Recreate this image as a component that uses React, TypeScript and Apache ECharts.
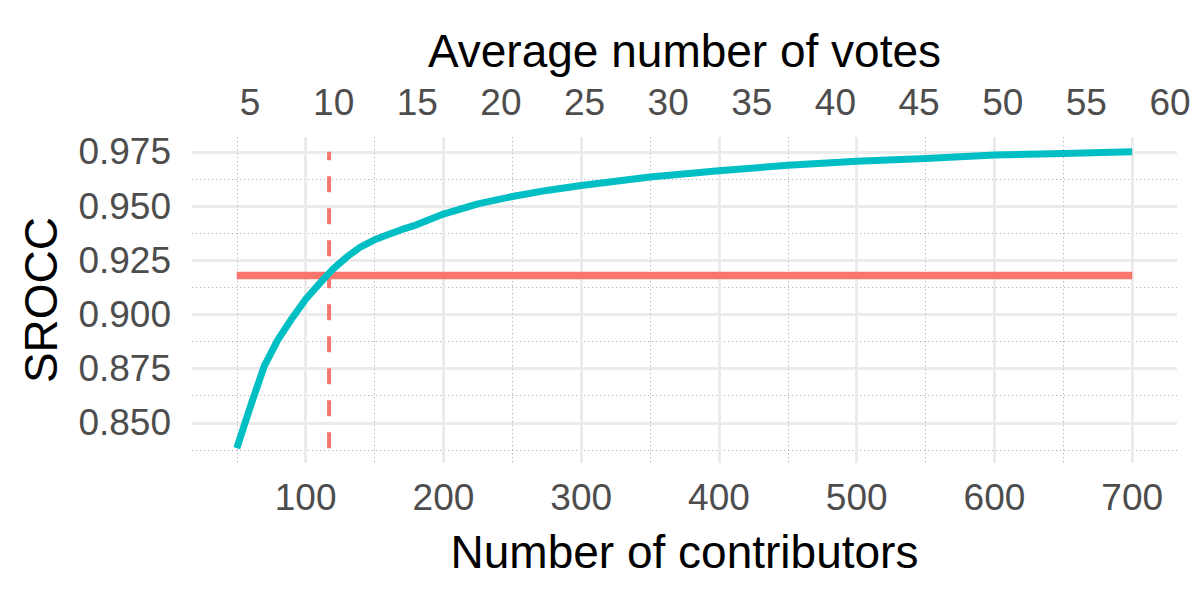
import React, { useEffect, useRef } from "react";
import * as echarts from "echarts";

const contributors = [50, 60, 70, 80, 90, 100, 110, 120, 130, 140, 150, 160, 170, 180, 200, 225, 250, 275, 300, 350, 400, 450, 500, 550, 600, 650, 700];
const srocc = [0.8383, 0.8577, 0.8763, 0.8885, 0.8981, 0.907, 0.9142, 0.921, 0.9266, 0.9312, 0.9344, 0.9369, 0.9392, 0.9412, 0.9463, 0.951, 0.9544, 0.9572, 0.9595, 0.9634, 0.9663, 0.9688, 0.9707, 0.9719, 0.9735, 0.9742, 0.975];

const xMajorTicks = [100, 200, 300, 400, 500, 600, 700];
const xMinorTicks = [50, 150, 250, 350, 450, 550, 650];
const yMajorTicks = [0.85, 0.875, 0.9, 0.925, 0.95, 0.975];
const yMinorTicks = [0.8375, 0.8625, 0.8875, 0.9125, 0.9375, 0.9625];
const voteTicks = [5, 10, 15, 20, 25, 30, 35, 40, 45, 50, 55, 60];

const thresholdSrocc = 0.918;
const thresholdContributors = 117;

const X_RANGE = [17.5, 732.5];
const Y_RANGE = [0.83147, 0.98184];
const VOTE_RANGE = [1.53, 60.42];

const FONT = "Liberation Sans, Arial, sans-serif";
const TEAL = "#00BFC4";
const RED = "#F8766D";

export default function App() {
  const ref = useRef<HTMLDivElement>(null);
  useEffect(() => {
    if (!ref.current) return;
    const chart = echarts.init(ref.current, undefined, { renderer: "svg" });
    const yMin = Math.min(...srocc);
    const yMax = Math.max(...srocc);
    const xMin = Math.min(...contributors);
    const xMax = Math.max(...contributors);
    const labelStyle = { color: "#4D4D4D", fontSize: 37, fontFamily: FONT };
    const nameStyle = { color: "#000000", fontSize: 46, fontFamily: FONT };
    chart.setOption({
      animation: false,
      backgroundColor: "#ffffff",
      grid: { left: 192, right: 23, top: 137, bottom: 137, containLabel: false },
      xAxis: [
        {
          type: "value",
          position: "bottom",
          min: X_RANGE[0],
          max: X_RANGE[1],
          name: "Number of contributors",
          nameLocation: "middle",
          nameGap: 66,
          nameTextStyle: nameStyle,
          axisLine: { show: false },
          axisTick: { show: false, customValues: xMajorTicks },
          axisLabel: { ...labelStyle, margin: 16, customValues: xMajorTicks },
          splitLine: { show: true, lineStyle: { color: "#EBEBEB", width: 3 } },
          z: 1,
        },
        {
          type: "value",
          position: "bottom",
          min: X_RANGE[0],
          max: X_RANGE[1],
          axisLine: { show: false },
          axisTick: { show: false, customValues: xMinorTicks },
          axisLabel: { show: false, customValues: xMinorTicks },
          splitLine: { show: true, lineStyle: { color: "#B3B3B3", width: 1, type: [1.2, 2.8] } },
        },
        {
          type: "value",
          position: "top",
          min: VOTE_RANGE[0],
          max: VOTE_RANGE[1],
          name: "Average number of votes",
          nameLocation: "middle",
          nameGap: 63,
          nameTextStyle: nameStyle,
          axisLine: { show: false },
          axisTick: { show: false, customValues: voteTicks },
          axisLabel: { ...labelStyle, margin: 16, customValues: voteTicks },
          splitLine: { show: false },
        },
      ],
      yAxis: [
        {
          type: "value",
          min: Y_RANGE[0],
          max: Y_RANGE[1],
          name: "SROCC",
          nameLocation: "middle",
          nameGap: 128,
          nameTextStyle: nameStyle,
          axisLine: { show: false },
          axisTick: { show: false, customValues: yMajorTicks },
          axisLabel: {
            ...labelStyle,
            margin: 21,
            customValues: yMajorTicks,
            formatter: (v: number) => v.toFixed(3),
          },
          splitLine: { show: true, lineStyle: { color: "#EBEBEB", width: 3 } },
        },
        {
          type: "value",
          min: Y_RANGE[0],
          max: Y_RANGE[1],
          axisLine: { show: false },
          axisTick: { show: false, customValues: yMinorTicks },
          axisLabel: { show: false, customValues: yMinorTicks },
          splitLine: { show: true, lineStyle: { color: "#B3B3B3", width: 1, type: [1.2, 2.8] } },
        },
      ],
      series: [
        {
          type: "line",
          xAxisIndex: 0,
          yAxisIndex: 0,
          data: [
            [xMin, thresholdSrocc],
            [xMax, thresholdSrocc],
          ],
          showSymbol: false,
          symbol: "none",
          lineStyle: { color: RED, width: 7.5, cap: "butt" },
          z: 3,
        },
        {
          type: "line",
          xAxisIndex: 0,
          yAxisIndex: 0,
          data: [
            [thresholdContributors, yMin],
            [thresholdContributors, yMax],
          ],
          showSymbol: false,
          symbol: "none",
          lineStyle: { color: RED, width: 4, type: [16, 16], cap: "butt" },
          z: 3,
        },
        {
          type: "line",
          xAxisIndex: 0,
          yAxisIndex: 0,
          data: contributors.map((c, i) => [c, srocc[i]]),
          showSymbol: false,
          symbol: "none",
          smooth: false,
          lineStyle: { color: TEAL, width: 7, cap: "butt", join: "round" },
          z: 4,
        },
      ],
    });
    return () => chart.dispose();
  }, []);
  return (
    <div
      ref={ref}
      style={{ position: "fixed", left: 0, top: 0, width: 1200, height: 600, background: "#fff" }}
    />
  );
}
